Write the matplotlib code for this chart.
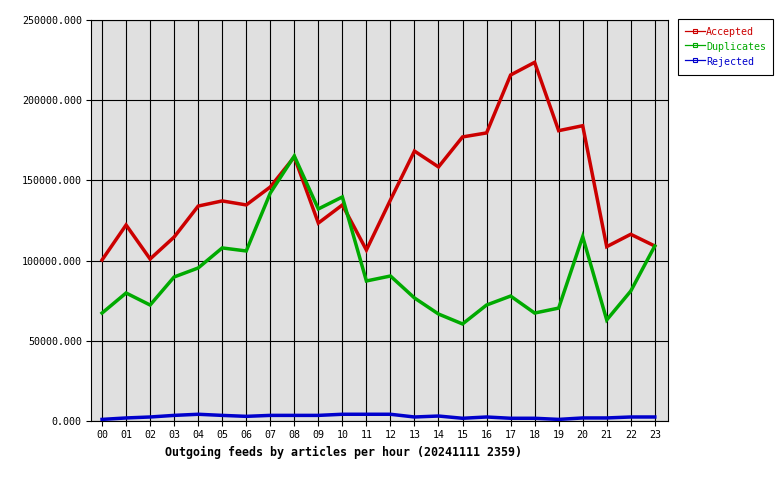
import matplotlib
matplotlib.use("Agg")
import matplotlib.pyplot as plt
from matplotlib.lines import Line2D

hours = ["00", "01", "02", "03", "04", "05", "06", "07", "08", "09", "10", "11",
         "12", "13", "14", "15", "16", "17", "18", "19", "20", "21", "22", "23"]
accepted = [100400, 122200, 101000, 114700, 134000, 137200, 134700, 145900,
            164600, 123400, 134700, 106600, 137800, 168300, 158400, 177100,
            179600, 215700, 223600, 181000, 184100, 108700, 116400, 109100]
duplicates = [67300, 79800, 72300, 89800, 95400, 107900, 106000, 142100,
              165200, 132200, 139700, 87300, 90400, 76700, 66700, 60500,
              72300, 77900, 67300, 70400, 114900, 63000, 81000, 109100]
rejected = [1000, 1900, 2500, 3500, 4200, 3500, 2900, 3500, 3500, 3500, 4200, 4200,
            4200, 2500, 3100, 1700, 2500, 1700, 1700, 1000, 1900, 1900, 2500, 2500]

series = [("Accepted", accepted, "#cc0000"),
          ("Duplicates", duplicates, "#00aa00"),
          ("Rejected", rejected, "#0000cc")]

plt.rcParams['font.family'] = ['DejaVu Sans Mono']

fig = plt.figure(figsize=(7.8, 4.8), dpi=100)
ax = fig.add_axes([91 / 780, 59 / 480, 577 / 780, 401 / 480])
ax.set_facecolor("#e0e0e0")

x = list(range(len(hours)))
for name, vals, col in series:
    ax.plot(x, vals, color=col, lw=2.5, solid_joinstyle="miter", zorder=3)

ax.set_xlim(-0.46, 23.55)
ax.set_ylim(0, 250000)
ax.set_xticks(x)
ax.set_xticklabels(hours)
yt = [0, 50000, 100000, 150000, 200000, 250000]
ax.set_yticks(yt)
ax.set_yticklabels(["%.3f" % v for v in yt])
ax.tick_params(direction="out", length=3.6, width=0.8, colors="black", labelsize=7.2, pad=3)
ax.grid(True, color="black", lw=0.8, zorder=1)
ax.set_axisbelow(True)
for s in ax.spines.values():
    s.set_linewidth(0.8)
    s.set_color("black")

fig.text(165 / 780, 1 - 452 / 480, "Outgoing feeds by articles per hour (20241111 2359)",
         fontsize=8.4, fontweight="bold", ha="left", va="center")

handles = [Line2D([], [], color=col, lw=0.9, marker="s", markersize=2.5,
                  markerfacecolor="none", markeredgewidth=0.8)
           for name, vals, col in series]
leg = ax.legend(handles, [s[0] for s in series], loc="upper left",
                bbox_to_anchor=(678 / 780, 1 - 19 / 480), bbox_transform=fig.transFigure,
                borderaxespad=0, fancybox=False, framealpha=1, edgecolor="black",
                fontsize=7.2, handlelength=2.0, handleheight=1.5, handletextpad=0.1,
                labelspacing=0.25, borderpad=0.7, labelcolor="linecolor", markerscale=1)
leg.get_frame().set_linewidth(0.8)

fig.savefig("out.png", dpi=100)
